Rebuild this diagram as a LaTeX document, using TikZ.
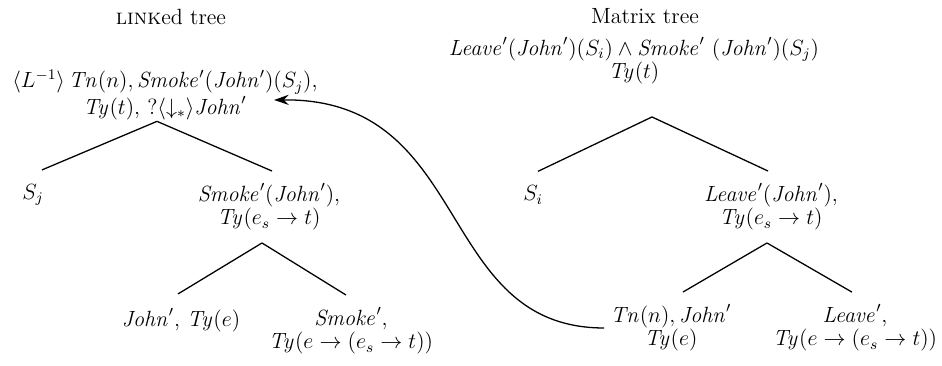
\documentclass[tikz,border=0pt]{standalone}
\usepackage{amsmath,amssymb}
\usepackage{tikz}
\usetikzlibrary{arrows.meta,positioning,calc}

\begin{document}
\begin{tikzpicture}[x=0.545pt,y=-0.545pt,>={Stealth[length=8pt,width=5.5pt]},
  every node/.style={align=center,font=\fontsize{12}{13}\selectfont},
  branch/.style={line width=0.7pt}]
  \useasboundingbox (0,0) rectangle (942,366);
  % titles
  \node (ltitle) at (171,17) {\textsc{link}ed tree};
  \node (mtitle) at (645,16) {Matrix tree};
  % LINKed tree
  \node (lroot) at (165,95) {
    $\langle L^{-1}\rangle\,\mathit{Tn}(n), \mathit{Smoke}'(\mathit{John}')(S_j)$,\\[1.5pt]
    $\mathit{Ty}(t)$, $?\langle{\downarrow_*}\rangle\mathit{John}'$
  };
  \node (sj) at (33,195) {$S_j$};
  \node (lsmoke) at (269,207) {
    $\mathit{Smoke}'(\mathit{John}')$,\\
    $\mathit{Ty}(e_s\rightarrow t)$
  };
  \node (ljohn) at (181,320) {$\mathit{John}'$, $\mathit{Ty}(e)$};
  \node (lsmokeleaf) at (351,331) {
    $\mathit{Smoke}'$,\\
    $\mathit{Ty}(e\rightarrow(e_s\rightarrow t))$
  };
  % matrix tree
  \node (mroot) at (634,61) {
    $\mathit{Leave}'(\mathit{John}')(S_i)\wedge\mathit{Smoke}'\ (\mathit{John}')(S_j)$\\
    $\mathit{Ty}(t)$
  };
  \node (si) at (533,195) {$S_i$};
  \node (mleave) at (771,207) {
    $\mathit{Leave}'(\mathit{John}')$,\\
    $\mathit{Ty}(e_s\rightarrow t)$
  };
  \node (mtn) at (671,328) {
    $\mathit{Tn}(n), \mathit{John}'$\\
    $\mathit{Ty}(e)$
  };
  \node (mleaveleaf) at (855,328) {
    $\mathit{Leave}'$,\\
    $\mathit{Ty}(e\rightarrow(e_s\rightarrow t))$
  };
  % branches
  \draw[branch] ([shift={(-8,-5)}]lroot.south) -- ([shift={(9,-8)}]sj.north);
  \draw[branch] ([shift={(-8,-5)}]lroot.south) -- ([shift={(3,-6)}]lsmoke.north);
  \draw[branch] ([shift={(-7,6)}]lsmoke.south) -- ([shift={(-3,-8)}]ljohn.north);
  \draw[branch] ([shift={(-7,6)}]lsmoke.south) -- ([shift={(-5,-6)}]lsmokeleaf.north);
  \draw[branch] ([shift={(18,26)}]mroot.south) -- ([shift={(5,-8)}]si.north);
  \draw[branch] ([shift={(18,26)}]mroot.south) -- ([shift={(-3,-6)}]mleave.north);
  \draw[branch] ([shift={(-4,6)}]mleave.south) -- ([shift={(12,-6)}]mtn.north);
  \draw[branch] ([shift={(-4,6)}]mleave.south) -- ([shift={(-3,-6)}]mleaveleaf.north);
  % link arrow
  \coordinate (linktip) at (274,100);
  \draw[->,branch] (mtn.west) .. controls +(-170,0) and +(200,-2) .. (linktip);
\end{tikzpicture}
\end{document}
